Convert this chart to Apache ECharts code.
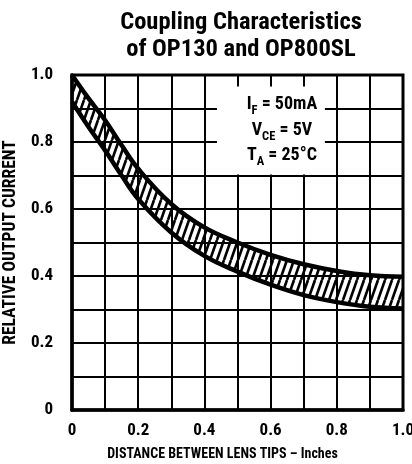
<!DOCTYPE html>
<html>
<head>
<meta charset="utf-8">
<script src="https://cdn.jsdelivr.net/npm/echarts@6/dist/echarts.min.js"></script>
<style>
  html, body { margin: 0; padding: 0; background: #fff; }
  #main { width: 412px; height: 464px; }
</style>
</head>
<body>
<div id="main"></div>
<script>
// distance between lens tips (inches)
let dist = [0, 0.05, 0.1, 0.15, 0.2, 0.3, 0.4, 0.5, 0.6, 0.7, 0.8, 0.9, 1.0]
// upper and lower edge of the band
let upper = [1.0, 0.93, 0.865, 0.79, 0.72, 0.615, 0.545, 0.5, 0.463, 0.435, 0.415, 0.402, 0.398]
let lower = [0.92, 0.845, 0.775, 0.7, 0.63, 0.53, 0.46, 0.413, 0.374, 0.343, 0.322, 0.308, 0.303]
// tick labels
let xLabels = ['0', '0.2', '0.4', '0.6', '0.8', '1.0']
let yLabels = ['0', '0.2', '0.4', '0.6', '0.8', '1.0']

let font = '"Liberation Sans Narrow", "Noto Sans Condensed", "Roboto Condensed", "Liberation Sans", sans-serif'

// hatch pattern for the band
let tile = document.createElement('canvas')
tile.width = 7
tile.height = 20
let ctx = tile.getContext('2d')
ctx.strokeStyle = '#000'
ctx.lineWidth = 2.6
for (let k = -1; k <= 1; k++) {
    ctx.beginPath()
    ctx.moveTo(k * 7, 20)
    ctx.lineTo(k * 7 + 7, 0)
    ctx.stroke()
}

// y value first so the stack works on y
let lowData = dist.map((d, i) => [lower[i], d])
let diffData = dist.map((d, i) => [+(upper[i] - lower[i]).toFixed(3), d])

function pick(labels) {
    return function (v) {
        let n = Math.round(v * 10)
        return n % 2 === 0 ? labels[n / 2] : ''
    }
}

let myChart = echarts.init(document.getElementById('main'))
myChart.setOption({
    animation: false,
    backgroundColor: '#fff',
    title: {
        text: 'Coupling Characteristics\nof OP130 and OP800SL',
        left: 236,
        top: 4,
        textAlign: 'center',
        textStyle: {
            fontFamily: font,
            fontWeight: 'bold',
            fontSize: 24.5,
            lineHeight: 27,
            color: '#000'
        }
    },
    grid: {
        left: 72,
        right: 9,
        top: 75,
        bottom: 54,
        containLabel: false,
        outerBoundsMode: 'none',
        show: true,
        borderColor: '#000',
        borderWidth: 3
    },
    xAxis: {
        type: 'value',
        min: 0,
        max: 1,
        interval: 0.1,
        name: 'DISTANCE BETWEEN LENS TIPS – Inches',
        nameLocation: 'middle',
        nameGap: 37,
        nameTextStyle: {
            fontFamily: font,
            fontWeight: 'bold',
            fontSize: 14,
            color: '#000',
            padding: [0, 30, 0, 0]
        },
        axisLine: { lineStyle: { color: '#000', width: 3.5 } },
        axisTick: { show: false },
        axisLabel: {
            margin: 12,
            fontFamily: font,
            fontWeight: 'bold',
            fontSize: 17,
            color: '#000',
            formatter: pick(xLabels)
        },
        splitLine: { lineStyle: { color: '#000', width: 2 } }
    },
    yAxis: {
        type: 'value',
        min: 0,
        max: 1,
        interval: 0.1,
        name: 'RELATIVE OUTPUT CURRENT',
        nameLocation: 'middle',
        nameGap: 42,
        nameTextStyle: {
            fontFamily: font,
            fontWeight: 'bold',
            fontSize: 17.5,
            color: '#000'
        },
        axisLine: { show: true, lineStyle: { color: '#000', width: 3.5 } },
        axisTick: { show: false },
        axisLabel: {
            margin: 19,
            fontFamily: font,
            fontWeight: 'bold',
            fontSize: 17,
            color: '#000',
            formatter: pick(yLabels)
        },
        splitLine: { lineStyle: { color: '#000', width: 2 } }
    },
    series: [{
        name: 'lower',
        type: 'line',
        stack: 'band',
        data: lowData,
        encode: { x: 1, y: 0 },
        smooth: 0.4,
        symbol: 'none',
        lineStyle: { color: '#000', width: 4.5 },
        markArea: {
            silent: true,
            itemStyle: { color: '#fff', opacity: 1 },
            label: {
                show: true,
                position: 'inside',
                offset: [11, 0],
                formatter: '{m|I}{s|F}{m| = 50mA}\n{m|V}{s|CE}{m| = 5V}\n{m|T}{s|A}{m| = 25°C}',
                rich: {
                    m: {
                        fontFamily: font,
                        fontWeight: 'bold',
                        fontSize: 18,
                        lineHeight: 25.5,
                        color: '#000'
                    },
                    s: {
                        fontFamily: font,
                        fontWeight: 'bold',
                        fontSize: 12.5,
                        verticalAlign: 'bottom',
                        color: '#000'
                    }
                }
            },
            data: [[{ coord: [0.438, 0.966] }, { coord: [0.764, 0.703] }]]
        }
    }, {
        name: 'upper',
        type: 'line',
        stack: 'band',
        data: diffData,
        encode: { x: 1, y: 0 },
        smooth: 0.4,
        symbol: 'none',
        lineStyle: { color: '#000', width: 4.5 },
        areaStyle: {
            color: { image: tile, repeat: 'repeat' },
            opacity: 1
        }
    }]
})
</script>
</body>
</html>
